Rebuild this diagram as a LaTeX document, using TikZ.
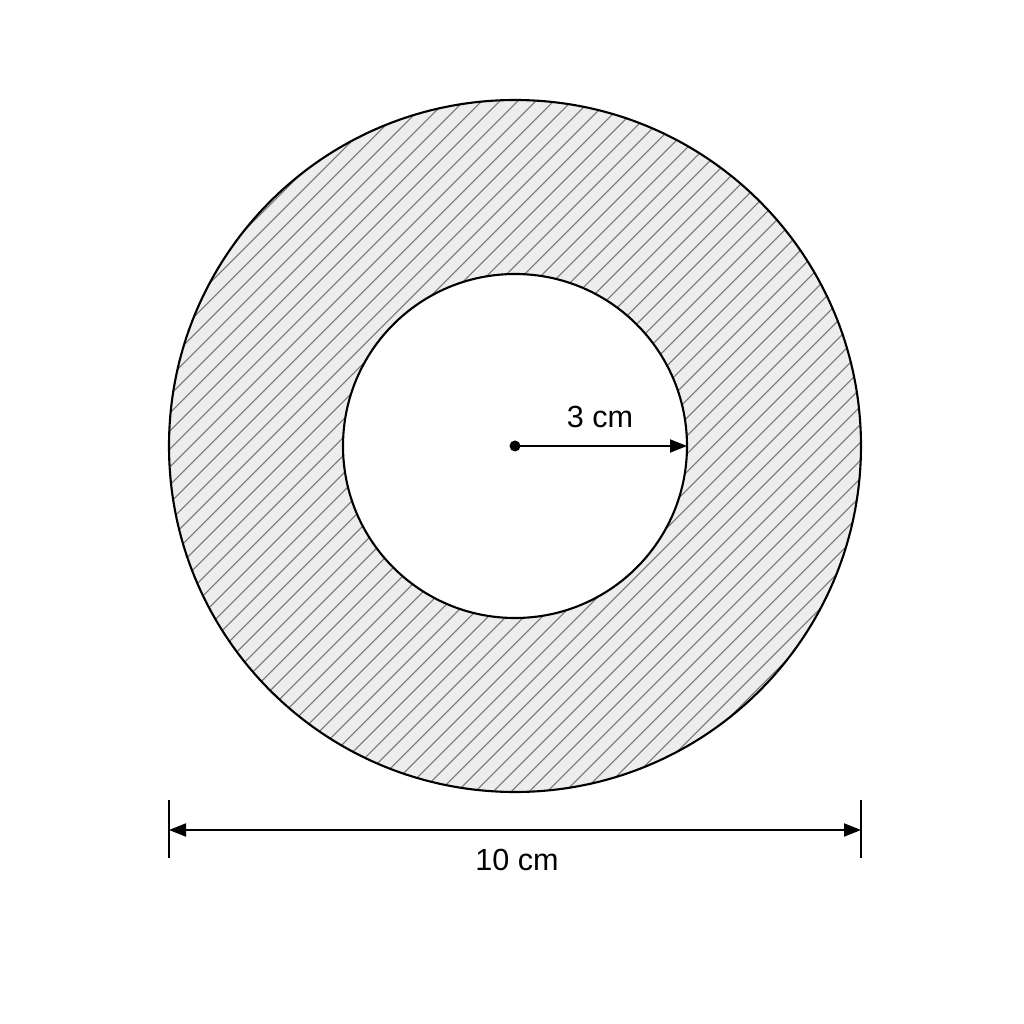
\documentclass[tikz,border=0pt]{standalone}
\usepackage{fontspec}
\setmainfont{Liberation Sans}
\usetikzlibrary{arrows.meta,calc}
\tikzset{
  dimline/.style={line width=0.6pt, {Triangle[length=0.17cm, width=0.13cm]}-{Triangle[length=0.17cm, width=0.13cm]}},
  radline/.style={line width=0.6pt, -{Triangle[length=0.17cm, width=0.13cm]}},
  hatch/.style={line width=0.3pt, black!55},
  dimlabel/.style={font=\fontsize{8.7}{10}\selectfont}
}
\begin{document}
\begin{tikzpicture}
            \useasboundingbox (0,0) rectangle (10.24,10.24);
            \coordinate (c) at (5.15,5.78);
            % ring with hatching
            \fill [black!7] (c) circle (3.46);
            \begin{scope}
                \clip (c) circle (3.46);
                \foreach \s in {-7.2,-7.02,...,7.2}
                    \draw [hatch] ($(c)+(\s-4,-4)$) -- ($(c)+(\s+4,4)$);
            \end{scope}
            \fill [white] (c) circle (1.72);
            \draw [line width=0.6pt] (c) circle (3.46);
            \draw [line width=0.6pt] (c) circle (1.72);
            % radius
            \coordinate (r) at ($(c)+(1.72,0)$);
            \fill [black] (c) circle (0.055);
            \draw [radline] (c) -- (r);
            \node [dimlabel] (rl) at (6.00,6.07) {3 cm};
            % diameter
            \coordinate (dl) at (1.69,1.94);
            \coordinate (dr) at (8.61,1.94);
            \draw [line width=0.6pt] (1.69,2.24) -- (1.69,1.66);
            \draw [line width=0.6pt] (8.61,2.24) -- (8.61,1.66);
            \draw [dimline] (dl) -- (dr);
            \node [dimlabel] (dlab) at (5.17,1.64) {10 cm};
        \end{tikzpicture}
\end{document}
